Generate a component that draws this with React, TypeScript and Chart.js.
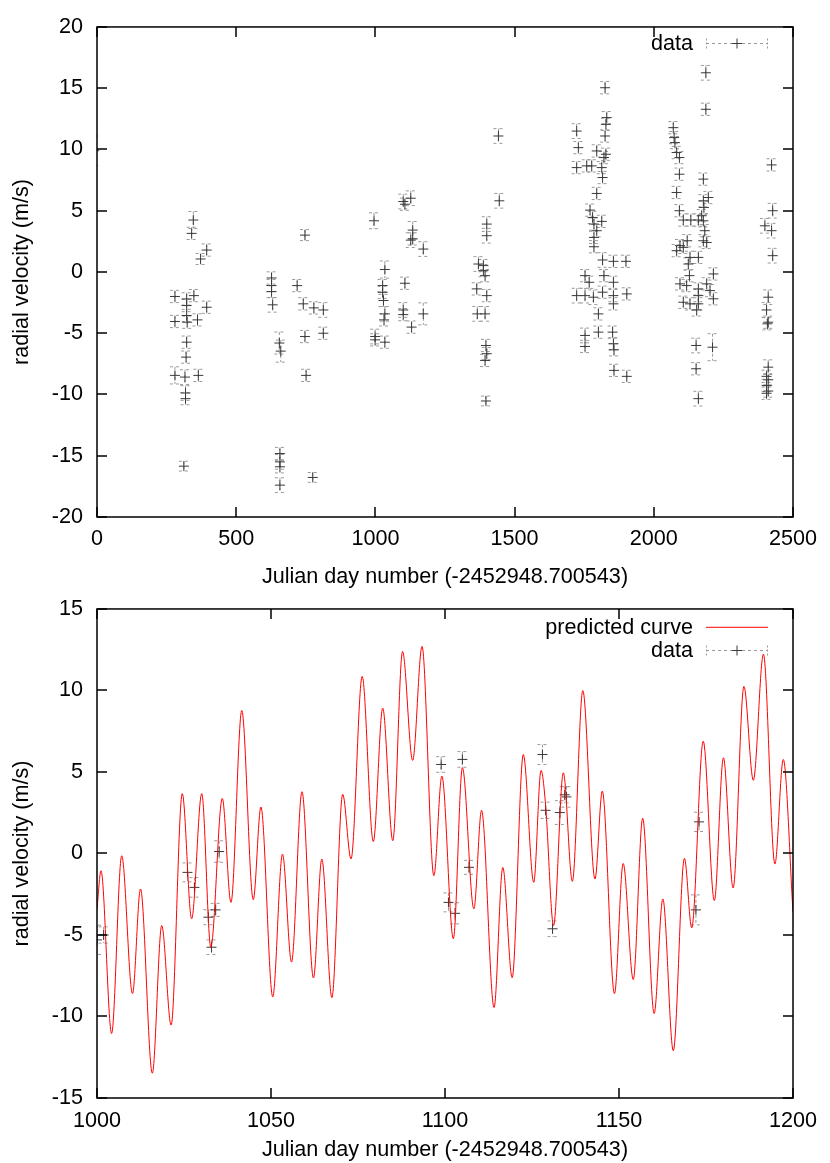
import React, { useEffect, useRef } from "react";
import { Chart, registerables } from "chart.js";
Chart.register(...registerables);

const FONT = "'Liberation Sans', Arial, Helvetica, sans-serif";
const FONT_SIZE = 21.6;

// ---------- Top panel: full data set ----------
const topDays = [
  -10, 346, 340, 394, 372, 747, 995, 1100, 1127, 1106, 1134, 1127, 1134, 1172,
  280, 322, 348, 322, 394, 280, 322, 324, 361, 322, 320, 280, 316, 364, 318, 318, 312,
  627, 627, 627, 631, 719, 741, 779, 813, 655, 660, 747, 813, 751, 657, 657, 657, 657, 775,
  1034, 1026, 1026, 1029, 1034, 1031, 999, 999, 1034, 1106, 1100, 1100, 1130, 1172,
  1442, 1445, 1400, 1400, 1370, 1388,
  1723, 1729, 1723, 1759, 1777, 1795, 1825, 1831, 1828, 1825, 1828, 1821, 1813, 1816,
  1795, 1771, 1780, 1785, 1813, 1795, 1785, 1785, 1816, 1855, 1900,
  2070, 2073, 2076, 2082, 2092, 2092, 2082, 2092, 2106, 2133, 2160, 2187, 2187, 2178,
  2178, 2196, 2180, 2172, 2178, 2183, 2178, 2120, 2106, 2082, 2094, 2130, 2160, 2190,
  2423, 2427, 2399, 2423, 2427,
  1388, 1394, 1364, 1400, 1366, 1394, 1397, 1400, 1394, 1397,
  1753, 1768, 1723, 1753, 1783, 1816, 1821, 1855, 1855, 1855, 1903, 1801, 1753, 1753,
  1801, 1852, 1855, 1857, 1857, 1903,
  2124, 2128, 2094, 2118, 2160, 2160, 2214, 2190, 2202, 2214, 2106, 2130, 2160, 2154,
  2152, 2211, 2152, 2160,
  2411, 2405, 2411, 2408, 2411, 2405, 2411, 2405, 2411, 2405,
];
const topRV = [
  9.9, 4.24, 3.15, 1.79, 1.06, 3.01, 4.18, 5.75, 6.02, 5.53, 3.42, 2.6, 2.7, 1.87,
  -2.0, -2.2, -1.93, -2.74, -2.88, -4.04, -3.55, -4.1, -3.91, -5.73, -6.95, -8.44, -8.58, -8.44, -9.88, -10.34, -15.85,
  -0.49, -1.11, -1.6, -2.68, -1.11, -2.6, -2.93, -3.1, -5.8, -6.46, -5.27, -5.0, -8.44, -14.82, -15.5, -15.9, -17.4, -16.77,
  0.2, -1.11, -1.66, -2.33, -3.42, -3.91, -5.27, -5.54, -5.73, -0.92, -3.1, -3.48, -4.5, -3.42,
  11.1, 5.81, 3.91, 2.96, 0.65, 0.52,
  11.5, 10.15, 8.52, 8.66, 8.66, 9.88, 15.04, 12.6, 12.05, 11.1, 9.61, 9.34, 8.52, 7.71,
  6.41, 5.05, 4.45, 3.91, 4.13, 3.37, 2.82, 2.06, 0.98, 0.87, 0.87,
  11.78, 10.97, 10.56, 9.75, 9.34, 7.98, 6.49, 5.0, 4.24, 4.24, 4.24, 16.26, 13.28, 7.58,
  5.81, 6.08, 5.27, 4.59, 4.18, 3.37, 2.55, 2.55, 2.01, 1.74, 2.15, 1.19, 1.19, 2.41,
  8.74, 5.0, 3.77, 3.37, 1.33,
  0.11, -0.3, -1.38, -1.93, -3.42, -3.42, -6.0, -6.67, -7.22, -10.53,
  -0.3, -0.84, -1.93, -1.93, -2.06, -1.65, -0.3, -0.84, -1.93, -2.6, -1.79, -3.42, -5.18, -6.08,
  -4.91, -4.91, -5.86, -6.35, -8.03, -8.52,
  0.65, -0.3, -0.97, -1.11, -1.38, -1.93, -0.16, -0.97, -1.52, -2.19, -2.47, -2.6, -2.6, -3.1,
  -6.0, -6.14, -7.9, -10.34,
  -2.06, -3.1, -4.1, -4.23, -7.77, -8.52, -8.8, -9.26, -9.72, -9.9,
];
const topErr = [
  1.2, 0.7, 0.5, 0.5, 0.45, 0.45, 0.65, 0.6, 0.6, 0.5, 0.7, 0.6, 0.5, 0.6,
  0.5, 0.5, 0.5, 0.5, 0.5, 0.5, 0.5, 0.5, 0.5, 0.5, 0.5, 0.7, 0.6, 0.5, 0.6, 0.5, 0.4,
  0.5, 0.5, 0.5, 0.6, 0.5, 0.5, 0.5, 0.6, 0.9, 0.9, 0.5, 0.5, 0.5, 0.5, 0.6, 0.5, 0.6, 0.4,
  0.7, 0.5, 0.5, 0.5, 0.6, 0.5, 0.6, 0.5, 0.5, 0.5, 0.6, 0.5, 0.5, 0.9,
  0.6, 0.6, 0.6, 0.6, 0.6, 0.5,
  0.6, 0.5, 0.5, 0.5, 0.5, 0.5, 0.5, 0.5, 0.5, 0.5, 0.5, 0.5, 0.5, 0.5,
  0.5, 0.5, 0.5, 0.5, 0.5, 0.5, 0.5, 0.5, 0.6, 0.5, 0.5,
  0.5, 0.5, 0.5, 0.5, 0.5, 0.5, 0.5, 0.5, 0.5, 0.5, 0.5, 0.6, 0.5, 0.5,
  0.5, 0.5, 0.5, 0.5, 0.5, 0.5, 0.5, 0.5, 0.5, 0.5, 0.5, 0.5, 0.5, 0.5,
  0.5, 0.6, 0.6, 0.6, 0.6,
  0.5, 0.5, 0.5, 0.5, 0.6, 0.6, 0.5, 0.5, 0.5, 0.4,
  0.5, 0.5, 0.6, 0.6, 0.6, 0.5, 0.5, 0.5, 0.5, 0.5, 0.5, 0.5, 0.6, 0.5,
  0.5, 0.5, 0.5, 0.5, 0.5, 0.5,
  0.5, 0.5, 0.5, 0.5, 0.5, 0.5, 0.5, 0.5, 0.5, 0.5, 0.5, 0.5, 0.5, 0.5,
  0.6, 1.1, 0.5, 0.6,
  0.6, 0.6, 0.5, 0.5, 0.6, 0.5, 0.5, 0.5, 0.5, 0.5,
];

// ---------- Bottom panel: zoom 1000..1200 ----------
const botDays = [1000.0, 1001.9, 1026.0, 1028.0, 1032.0, 1034.1, 1032.9, 1035.1, 1098.9, 1101.0,
  1102.9, 1105.0, 1106.9, 1128.0, 1128.9, 1130.9, 1133.0, 1134.9, 1134.4, 1173.0, 1172.1];
const botRV = [-5.3, -5.0, -1.16, -2.08, -3.91, -3.46, -5.75, 0.12, 5.46, -3.0,
  -3.67, 5.77, -0.85, 6.07, 2.65, -4.62, 2.51, 3.47, 3.6, 1.94, -3.46];
const botErr = [0.9, 0.5, 0.58, 0.6, 0.46, 0.4, 0.45, 0.66, 0.48, 0.58,
  0.65, 0.48, 0.43, 0.61, 0.5, 0.48, 0.73, 0.63, 0.5, 0.59, 0.92];

const curveDays = [
  1000.0, 1001.15, 1004.2, 1007.1, 1010.2, 1012.5, 1015.9, 1018.6, 1021.3, 1024.5,
  1027.2, 1030.1, 1032.7, 1036.0, 1038.5, 1041.6, 1044.9, 1047.1, 1050.5, 1053.3,
  1055.9, 1058.9, 1062.2, 1064.6, 1067.5, 1070.6, 1073.0, 1076.2, 1079.4, 1082.1,
  1085.0, 1087.8, 1090.7, 1093.4, 1096.8, 1099.1, 1102.4, 1105.0, 1108.3, 1110.5,
  1114.1, 1116.6, 1119.3, 1122.5, 1125.5, 1127.6, 1128.9, 1131.2, 1134.0, 1136.6,
  1139.6, 1143.1, 1145.2, 1148.7, 1151.2, 1154.1, 1156.8, 1160.1, 1162.6, 1165.6,
  1168.8, 1170.9, 1174.2, 1177.4, 1180.0, 1182.8, 1185.9, 1188.6, 1191.5, 1194.8,
  1197.2, 1200.0,
];
const curveRV = [
  -3.4, -1.06, -11.04, -0.14, -8.6, -2.18, -13.48, -4.42, -10.53, 3.67,
  -4.01, 3.67, -5.75, 3.38, -3.0, 8.77, -2.83, 2.85, -8.8, -0.04,
  -6.66, 3.79, -7.64, -0.34, -8.84, 3.63, -0.34, 10.86, 0.73, 8.92,
  0.78, 12.39, 5.71, 12.7, -1.36, 4.75, -5.23, 5.26, -3.4, 2.65,
  -9.45, -0.85, -7.62, 6.07, -1.77, 5.1, 3.0, -4.42, 4.95, -1.71,
  9.99, -1.57, 3.83, -8.6, -0.61, -7.74, 2.16, -9.82, -2.79, -12.1,
  -0.3, -4.56, 6.89, -2.89, 5.87, -2.12, 10.25, 4.49, 12.23, -0.65,
  5.77, -3.6,
];

const topXTicks = [0, 500, 1000, 1500, 2000, 2500];
const topYTicks = [-20, -15, -10, -5, 0, 5, 10, 15, 20];
const botXTicks = [1000, 1050, 1100, 1150, 1200];
const botYTicks = [-15, -10, -5, 0, 5, 10, 15];

const X_TITLE = "Julian day number (-2452948.700543)";
const Y_TITLE = "radial velocity (m/s)";

const ERR_COLOR = "#9a9a9a";
const PT_COLOR = "#3a3a3a";

type LegendItem = { kind: "line" | "data"; text: string; y: number };

function drawDataSample(ctx: CanvasRenderingContext2D, x0: number, x1: number, y: number) {
  ctx.save();
  ctx.strokeStyle = ERR_COLOR;
  ctx.lineWidth = 1;
  ctx.setLineDash([3, 3]);
  ctx.beginPath();
  ctx.moveTo(x0, y);
  ctx.lineTo(x1, y);
  ctx.stroke();
  ctx.setLineDash([2, 2]);
  ctx.beginPath();
  ctx.moveTo(x0 + 0.5, y - 5);
  ctx.lineTo(x0 + 0.5, y + 5);
  ctx.moveTo(x1 - 0.5, y - 5);
  ctx.lineTo(x1 - 0.5, y + 5);
  ctx.stroke();
  ctx.setLineDash([]);
  ctx.strokeStyle = PT_COLOR;
  const cx = (x0 + x1) / 2;
  ctx.beginPath();
  ctx.moveTo(cx - 5, y);
  ctx.lineTo(cx + 5, y);
  ctx.moveTo(cx, y - 5);
  ctx.lineTo(cx, y + 5);
  ctx.stroke();
  ctx.restore();
}

function makeDecor(id: string, legend: LegendItem[]) {
  return {
    id,
    beforeDatasetsDraw(chart: any) {
      const { ctx, chartArea: ca, scales } = chart;
      const ys = scales.y;
      ctx.save();
      ctx.beginPath();
      ctx.rect(ca.left, ca.top, ca.right - ca.left, ca.bottom - ca.top);
      ctx.clip();
      chart.data.datasets.forEach((ds: any, i: number) => {
        if (!ds.errors) return;
        const meta = chart.getDatasetMeta(i);
        meta.data.forEach((el: any, j: number) => {
          const pt = ds.data[j];
          const e = ds.errors[j];
          const yT = ys.getPixelForValue(pt.y + e);
          const yB = ys.getPixelForValue(pt.y - e);
          const x = el.x;
          ctx.strokeStyle = ERR_COLOR;
          ctx.lineWidth = 1;
          ctx.setLineDash([3, 2]);
          ctx.beginPath();
          ctx.moveTo(x, yT);
          ctx.lineTo(x, yB);
          ctx.stroke();
          ctx.setLineDash([3, 3]);
          ctx.beginPath();
          ctx.moveTo(x - 5, yT);
          ctx.lineTo(x + 5, yT);
          ctx.moveTo(x - 5, yB);
          ctx.lineTo(x + 5, yB);
          ctx.stroke();
        });
      });
      ctx.restore();
    },
    afterDraw(chart: any) {
      const { ctx, chartArea: ca, scales } = chart;
      const xs = scales.x;
      const ys = scales.y;
      ctx.save();
      ctx.setLineDash([]);
      ctx.strokeStyle = "#000";
      ctx.lineWidth = 1.5;
      ctx.beginPath();
      xs.ticks.forEach((t: any) => {
        const px = Math.round(xs.getPixelForValue(t.value));
        ctx.moveTo(px, ca.bottom);
        ctx.lineTo(px, ca.bottom - 10);
        ctx.moveTo(px, ca.top);
        ctx.lineTo(px, ca.top + 10);
      });
      ys.ticks.forEach((t: any) => {
        const py = Math.round(ys.getPixelForValue(t.value));
        ctx.moveTo(ca.left, py);
        ctx.lineTo(ca.left + 10, py);
        ctx.moveTo(ca.right, py);
        ctx.lineTo(ca.right - 10, py);
      });
      ctx.stroke();
      ctx.strokeRect(ca.left, ca.top, ca.right - ca.left, ca.bottom - ca.top);

      // legend
      ctx.font = `${FONT_SIZE}px ${FONT}`;
      ctx.fillStyle = "#000";
      ctx.textAlign = "right";
      ctx.textBaseline = "middle";
      legend.forEach((it) => {
        ctx.fillText(it.text, 693, it.y + 1);
        if (it.kind === "line") {
          ctx.strokeStyle = "#ff0000";
          ctx.lineWidth = 1;
          ctx.beginPath();
          ctx.moveTo(706, it.y);
          ctx.lineTo(768, it.y);
          ctx.stroke();
        } else {
          drawDataSample(ctx, 706, 768, it.y);
        }
      });
      ctx.restore();
    },
  };
}

const plainLabel = (v: any) => String(v);

function axisOptions(
  xMin: number, xMax: number, xStep: number, xTicks: number[],
  yMin: number, yMax: number, yStep: number, yTicks: number[],
  xAxisHeight: number, xTickPad: number, xTitlePadBottom: number
) {
  return {
    x: {
      type: "linear",
      min: xMin,
      max: xMax,
      afterBuildTicks: (scale: any) => {
        scale.ticks = xTicks.map((v) => ({ value: v }));
      },
      ticks: { stepSize: xStep, color: "#000", padding: xTickPad, maxRotation: 0, autoSkip: false, font: { size: FONT_SIZE }, callback: plainLabel },
      grid: { display: false, drawTicks: false },
      border: { display: false },
      title: { display: true, text: X_TITLE, color: "#000", font: { size: FONT_SIZE }, padding: { top: 0, bottom: xTitlePadBottom } },
      afterFit: (scale: any) => {
        scale.height = xAxisHeight;
      },
    },
    y: {
      type: "linear",
      min: yMin,
      max: yMax,
      afterBuildTicks: (scale: any) => {
        scale.ticks = yTicks.map((v) => ({ value: v }));
      },
      ticks: { stepSize: yStep, color: "#000", padding: 14, autoSkip: false, font: { size: FONT_SIZE }, callback: plainLabel },
      grid: { display: false, drawTicks: false },
      border: { display: false },
      title: { display: true, text: Y_TITLE, color: "#000", font: { size: FONT_SIZE }, padding: { top: 9, bottom: 0 } },
      afterFit: (scale: any) => {
        scale.width = 97;
      },
    },
  };
}

function TopChart() {
  const ref = useRef<HTMLCanvasElement | null>(null);
  useEffect(() => {
    if (!ref.current) return;
    const chart = new Chart(ref.current, {
      type: "line",
      data: {
        datasets: [
          {
            label: "data",
            data: topDays.map((d, i) => ({ x: d, y: topRV[i] })),
            errors: topErr,
            showLine: false,
            pointStyle: "cross",
            pointRadius: 5,
            pointBorderWidth: 1,
            pointBorderColor: PT_COLOR,
            borderColor: PT_COLOR,
          } as any,
        ],
      },
      options: {
        animation: false,
        responsive: false,
        layout: { padding: { top: 26, right: 37, left: 0, bottom: 0 } },
        plugins: { legend: { display: false }, tooltip: { enabled: false } },
        scales: axisOptions(0, 2500, 500, topXTicks, -20, 20, 5, topYTicks, 75, 9, 2.4) as any,
      },
      plugins: [makeDecor("decorTop", [{ kind: "data", text: "data", y: 43.5 }])],
    });
    return () => chart.destroy();
  }, []);
  return <canvas ref={ref} width={830} height={592} style={{ position: "absolute", left: 0, top: 0, display: "block" }} />;
}

function BottomChart() {
  const ref = useRef<HTMLCanvasElement | null>(null);
  useEffect(() => {
    if (!ref.current) return;
    const chart = new Chart(ref.current, {
      type: "line",
      data: {
        datasets: [
          {
            label: "predicted curve",
            data: curveDays.map((d, i) => ({ x: d, y: curveRV[i] })),
            borderColor: "#ff0000",
            borderWidth: 1,
            pointRadius: 0,
            cubicInterpolationMode: "monotone",
            fill: false,
          } as any,
          {
            label: "data",
            data: botDays.map((d, i) => ({ x: d, y: botRV[i] })),
            errors: botErr,
            showLine: false,
            pointStyle: "cross",
            pointRadius: 5,
            pointBorderWidth: 1,
            pointBorderColor: PT_COLOR,
            borderColor: PT_COLOR,
          } as any,
        ],
      },
      options: {
        animation: false,
        responsive: false,
        layout: { padding: { top: 25, right: 37, left: 0, bottom: 0 } },
        plugins: { legend: { display: false }, tooltip: { enabled: false } },
        scales: axisOptions(1000, 1200, 50, botXTicks, -15, 15, 5, botYTicks, 65, 10, 0.4) as any,
      },
      plugins: [
        makeDecor("decorBottom", [
          { kind: "line", text: "predicted curve", y: 45.3 },
          { kind: "data", text: "data", y: 68.5 },
        ]),
      ],
    });
    return () => chart.destroy();
  }, []);
  return <canvas ref={ref} width={830} height={581} style={{ position: "absolute", left: 0, top: 582, display: "block" }} />;
}

export default function App() {
  Chart.defaults.font.family = FONT;
  Chart.defaults.font.size = FONT_SIZE;
  return (
    <div style={{ position: "absolute", left: 0, top: 0, width: 830, height: 1163, background: "#fff", overflow: "hidden" }}>
      <TopChart />
      <BottomChart />
    </div>
  );
}
